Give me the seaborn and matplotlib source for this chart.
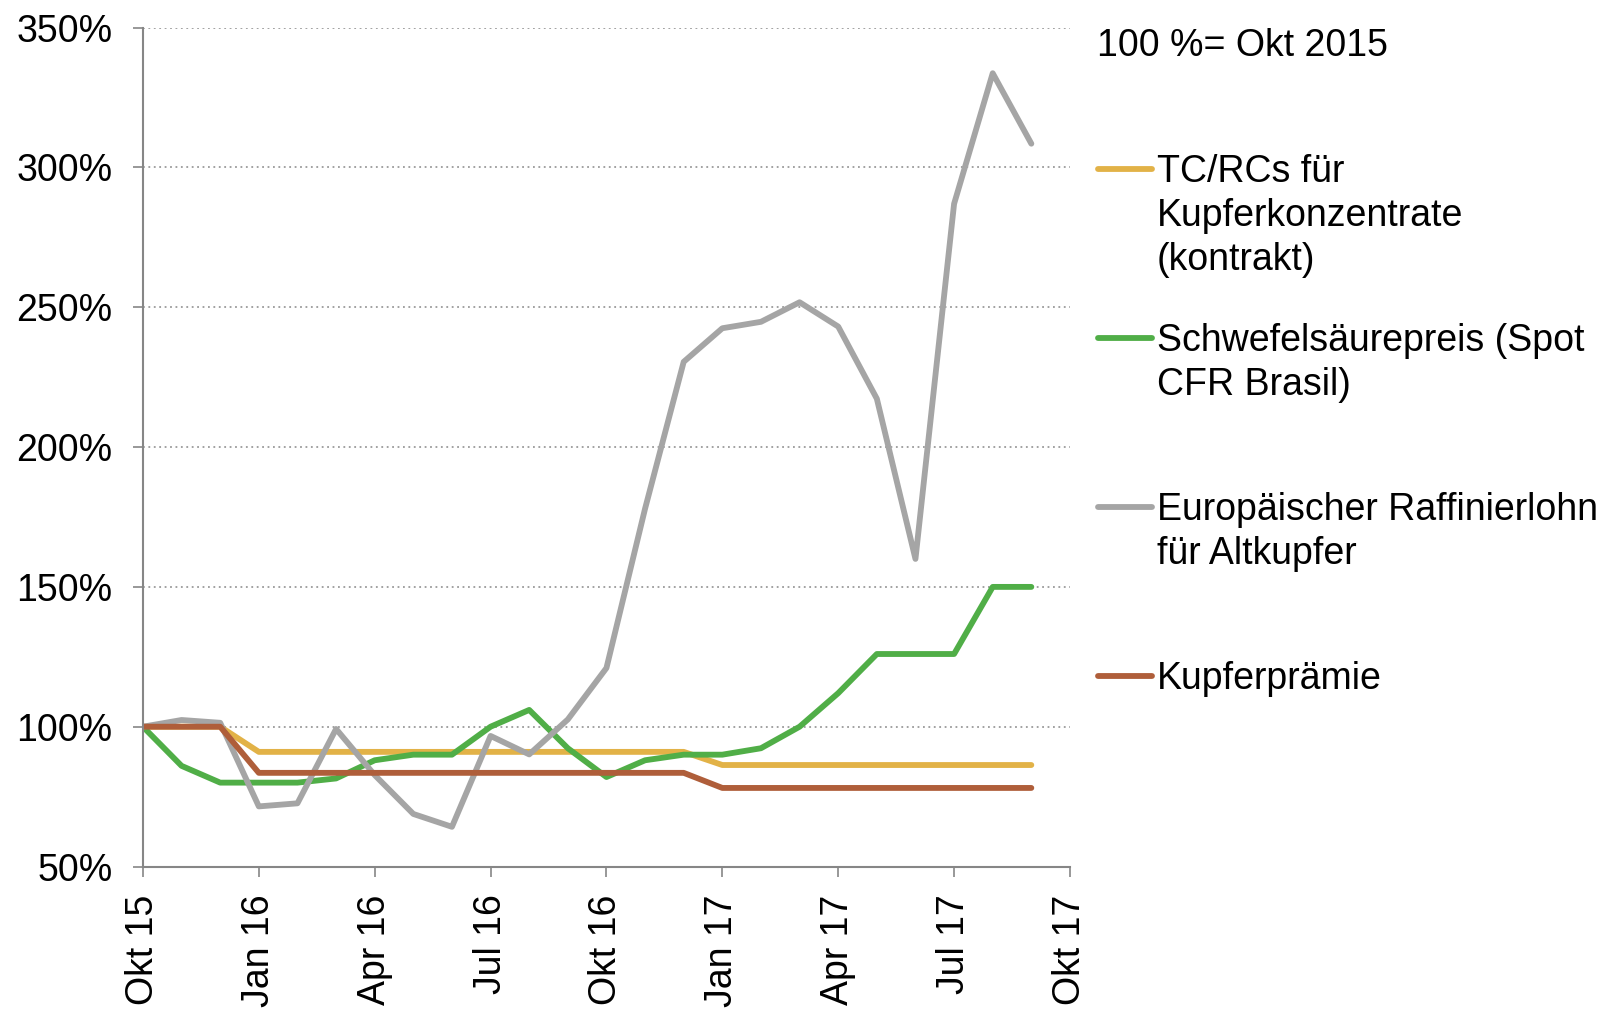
import numpy as np
import pandas as pd
import matplotlib
matplotlib.use("Agg")
import matplotlib.pyplot as plt
import seaborn as sns

# ── Data (index 100 = Okt 2015, monthly Okt 15 .. Sep 17) ────────────────────
month_idx = list(range(24))
tick_pos = [0, 3, 6, 9, 12, 15, 18, 21, 24]
tick_labels = ["Okt 15", "Jan 16", "Apr 16", "Jul 16", "Okt 16",
               "Jan 17", "Apr 17", "Jul 17", "Okt 17"]

tc_rcs = [100, 100, 100, 91, 91, 91, 91, 91, 91, 91, 91, 91,
          91, 91, 91, 86.3, 86.3, 86.3, 86.3, 86.3, 86.3, 86.3, 86.3, 86.3]
schwefel = [100, 86, 80, 80, 80, 81.5, 88, 90, 90, 100, 106, 92.3,
            82, 88, 90, 90, 92.3, 100, 112, 126, 126, 126, 150, 150]
raffinier = [100, 102.4, 101.4, 71.5, 72.6, 99.2, 82.7, 68.8, 64.2, 96.7, 90.1, 102.6,
             121, 178, 230.5, 242.5, 244.8, 251.8, 243.1, 217.3, 160, 287, 333.7, 308.5]
praemie = [100, 100, 100, 83.5, 83.5, 83.5, 83.5, 83.5, 83.5, 83.5, 83.5, 83.5,
           83.5, 83.5, 83.5, 78.1, 78.1, 78.1, 78.1, 78.1, 78.1, 78.1, 78.1, 78.1]

series_names = [
    "TC/RCs für\nKupferkonzentrate\n(kontrakt)",
    "Schwefelsäurepreis (Spot\nCFR Brasil)",
    "Europäischer Raffinierlohn\nfür Altkupfer",
    "Kupferprämie",
]
series_values = [tc_rcs, schwefel, raffinier, praemie]
colors = ["#E2B247", "#50AE47", "#A5A5A5", "#AF5E3A"]

df = pd.concat(
    [pd.DataFrame({"monat": month_idx, "wert": v, "serie": n})
     for n, v in zip(series_names, series_values)],
    ignore_index=True,
)

# ── Style ────────────────────────────────────────────────────────────────────
sns.set_theme(style="white")
plt.rcParams["font.family"] = ["Liberation Sans", "DejaVu Sans"]
plt.rcParams["text.color"] = "black"
FS = 27
LW = 4.2
AXIS_GREY = "#868686"

fig = plt.figure(figsize=(16.17, 10.13), dpi=100)
ax = fig.add_axes([0.0884, 0.1446, 0.5733, 0.8281])

palette = dict(zip(series_names, colors))
sns.lineplot(data=df, x="monat", y="wert", hue="serie", hue_order=series_names,
             palette=palette, linewidth=LW, legend=False, ax=ax,
             solid_capstyle="round", solid_joinstyle="round")

ax.set_xlim(0, 24)
ax.set_ylim(50, 350)
ax.set_yticks(np.arange(50, 351, 50))
ax.set_yticklabels([f"{v:.0f}%" for v in np.arange(50, 351, 50)], fontsize=FS)
ax.set_xticks(tick_pos)
ax.set_xticklabels(tick_labels, rotation=90, fontsize=FS)
ax.set_xlabel("")
ax.set_ylabel("")

ax.yaxis.grid(True, linestyle=(0, (1, 2)), color="#9a9a9a", linewidth=1.3)
ax.set_axisbelow(True)
for side in ["top", "right"]:
    ax.spines[side].set_visible(False)
for side in ["left", "bottom"]:
    ax.spines[side].set_color(AXIS_GREY)
    ax.spines[side].set_linewidth(1.5)
ax.tick_params(axis="both", direction="out", length=7, width=1.2,
               color=AXIS_GREY, labelcolor="black")
ax.tick_params(axis="y", pad=15, left=True)
ax.tick_params(axis="x", pad=13, bottom=True)

# ── Legend (right side, drawn by hand like the original) ─────────────────────
W, H = 1617, 1013
fig.text(1097 / W, 1 - 46 / H, "100 %= Okt 2015", fontsize=FS,
         ha="left", va="center")
legend_y = [169, 338, 507, 676]
for name, col, y in zip(series_names, colors, legend_y):
    yf = 1 - y / H
    fig.add_artist(plt.Line2D([1098 / W, 1152 / W], [yf, yf], color=col,
                              linewidth=LW, solid_capstyle="round",
                              transform=fig.transFigure))
    # first text line centred on the handle
    fig.text(1157 / W, 1 - (y - 15) / H, name, fontsize=FS, ha="left",
             va="top", linespacing=1.28)

fig.savefig("out.png", dpi=100)
